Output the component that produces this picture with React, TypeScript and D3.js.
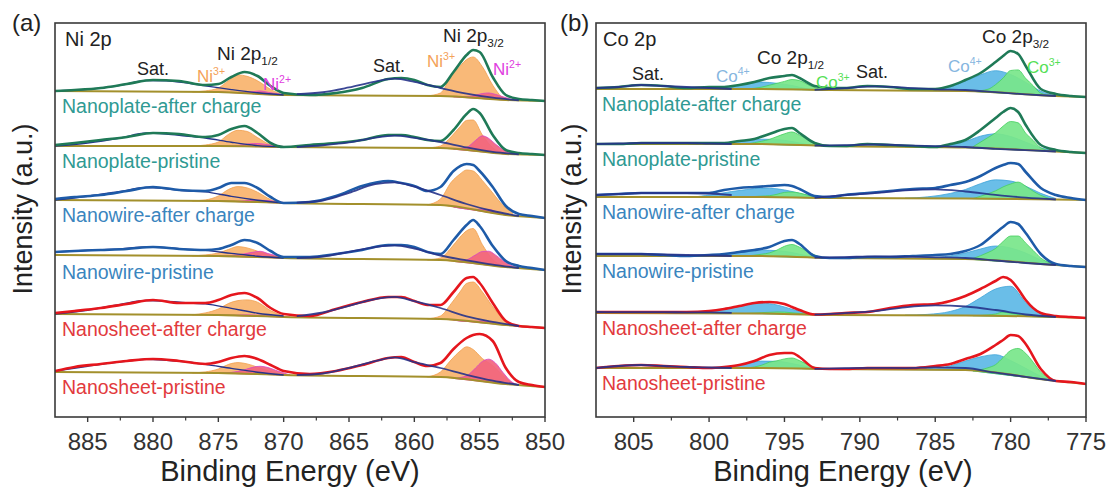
import React from "react";
import * as d3 from "d3";

// ---- series (top to bottom) ----
const seriesNames = [
  "Nanoplate-after charge",
  "Nanoplate-pristine",
  "Nanowire-after charge",
  "Nanowire-pristine",
  "Nanosheet-after charge",
  "Nanosheet-pristine",
];
const seriesKind = ["plate", "plate", "wire", "wire", "sheet", "sheet"];

// ---- Ni 2p panel ----
const niEnergy = [887.5, 886, 884, 882, 880, 878, 876, 875, 874, 873, 872, 871, 870, 868, 866, 864, 862, 861, 860, 859, 858, 857, 856, 855.5, 855, 854, 853, 852, 851, 850];
const niPlateAfter = [0, 1, 3, 7, 11, 10, 6, 7, 14, 19, 15, 5, -2, -4, -2, 3, 12, 13, 11, 6, 4, 19, 36, 41, 39, 14, -4, -8, -9, -10];
const niPlatePristine = [1, 3, 6, 9, 13, 12, 9, 11, 17, 20, 13, 3, -1, 1, 3, 6, 11, 11, 9, 6, 5, 16, 32, 37, 33, 11, -4, -7, -8, -9];
const niWireAfter = [1, 3, 5, 9, 13, 10, 9, 12, 17, 17, 12, 3, -3, -2, 4, 14, 19, 17, 14, 9, 13, 29, 36, 35, 29, 13, -6, -14, -16, -18];
const niWirePristine = [5, 6, 7, 8, 10, 8, 7, 8, 12, 17, 14, 6, 0, 0, 3, 7, 12, 12, 10, 5, 3, 17, 32, 37, 31, 11, -4, -9, -11, -13];
const niSheetAfter = [1, 3, 6, 10, 14, 11, 11, 14, 19, 21, 16, 6, 0, -2, 5, 12, 17, 17, 13, 9, 9, 22, 36, 37, 31, 11, -7, -12, -13, -14];
const niSheetPristine = [1, 5, 8, 11, 13, 11, 8, 10, 14, 16, 13, 7, 1, -2, 1, 7, 14, 15, 10, 6, 9, 23, 34, 37, 38, 31, 4, -10, -13, -15];
const niOffsets = [326, 271, 217, 160, 103, 45];

const niBgEnergy = [887.5, 875, 870, 858, 853, 850];
const niBg = [
  [0, -1, -4, -5, -9, -10],
  [0, 0, -1, -2, -8, -9],
  [0, -1, -3, -5, -15, -18],
  [2, 1, -1, -3, -10, -13],
  [0, -1, -3, -5, -11, -14],
  [0, -1, -3, -5, -12, -15],
];

const ni3MainEnergy = [859, 858, 857.2, 856.5, 856, 855.5, 854.8, 854, 853.2, 852.5];
const ni3Main = [
  [0, 3, 20, 31, 38, 41, 32, 14, 2, 0],
  [0, 2, 12, 23, 30, 31, 17, 5, 1, 0],
  [0, 6, 24, 34, 39, 39, 31, 20, 9, 3],
  [0, 2, 13, 25, 32, 35, 20, 6, 1, 0],
  [0, 3, 16, 29, 38, 40, 31, 17, 6, 1],
  [0, 5, 18, 28, 33, 31, 23, 17, 8, 1],
];
const ni2MainEnergy = [857, 856, 855.3, 854.8, 854.3, 853.8, 853.2, 852.6, 852];
const ni2Main = [
  [0, 1, 3, 5, 6, 5, 3, 1, 0],
  [0, 3, 11, 16, 14, 9, 4, 1, 0],
  [0, 0, 1, 2, 3, 2, 1, 0, 0],
  [0, 3, 9, 13, 14, 11, 6, 2, 0],
  [0, 0, 1, 2, 2, 1, 0, 0, 0],
  [0, 4, 13, 20, 23, 20, 11, 3, 0],
];
const ni3MinorEnergy = [877, 876, 875, 874.2, 873.5, 872.8, 872, 871, 870];
const ni3Minor = [
  [0, 1, 4, 12, 18, 17, 13, 5, 0],
  [0, 1, 4, 12, 16, 15, 9, 2, 0],
  [0, 1, 5, 12, 15, 14, 10, 3, 0],
  [0, 1, 3, 7, 10, 9, 6, 2, 0],
  [0, 2, 6, 12, 15, 16, 14, 6, 1],
  [0, 1, 4, 9, 11, 10, 7, 3, 0],
];
const ni2MinorEnergy = [875, 874, 873, 872.3, 871.8, 871.2, 870.5, 869.5];
const ni2Minor = [
  [0, 0, 1, 2, 3, 2, 1, 0],
  [0, 0, 2, 3, 3, 2, 1, 0],
  [0, 0, 1, 2, 2, 2, 1, 0],
  [0, 1, 3, 5, 6, 4, 2, 0],
  [0, 0, 1, 1, 1, 1, 0, 0],
  [0, 1, 4, 7, 8, 7, 4, 0],
];
const niSatMainEnergy = [869, 867, 865, 863, 861.5, 860, 858, 856, 854, 852];
const niSatMain = [
  [1, 3, 8, 14, 17, 14, 8, 4, 1.5, 0],
  [0, 2, 5, 10, 12, 10, 6, 3, 1, 0],
  [0.5, 3, 11, 20, 22, 18, 10, 5, 2, 0],
  [0, 2, 7, 12, 14, 11, 4.5, 2.5, 1, 0],
  [1, 5, 12, 19, 21.5, 17.5, 11, 5, 2, 0],
  [0, 2, 8, 15, 19, 14.5, 9, 5, 2, 0],
];
const niSatMinorEnergy = [887.5, 885, 882.5, 880.5, 879, 877.5, 876, 874, 872, 870];
const niSatMinor = [
  [0, 2, 6, 11, 11, 9, 6, 3, 1, 0],
  [0, 3, 8, 13, 12, 10, 8, 4, 1, 0],
  [0, 4, 9, 13, 12, 10, 9, 5, 2, 0],
  [3, 5, 6.5, 8.5, 8, 6.5, 5.5, 3, 1, 0],
  [0, 4, 10, 14, 13.5, 12, 11, 7, 3, 1],
  [1, 6, 10.5, 13.3, 12.5, 11, 8.5, 5, 2, 0],
];
const niTicks = [885, 880, 875, 870, 865, 860, 855, 850];

// ---- Co 2p panel ----
const coEnergy = [807.5, 806, 804.5, 803, 801.5, 800, 799, 798, 797, 796, 795, 794.5, 794, 793, 792, 791, 789.5, 788, 786.5, 785, 784, 783, 782, 781, 780.5, 780, 779.5, 779, 778, 777, 776, 775];
const coPlateAfter = [1, 2, 4, 3, 1, 2, 2, 4, 7, 11, 13, 14, 11, 3, 1, 1, 3, 2, 0, 0, 3, 9, 16, 27, 33, 38, 35, 23, 0, -5, -7, -8];
const coPlatePristine = [0, 0, 1, 1, 1, 1, 1, 3, 5, 10, 15, 16, 11, 1, -2, -2, 0, -1, -2, -3, 0, 4, 14, 26, 32, 36, 32, 19, -1, -6, -8, -9];
const coWireAfter = [2, 3, 4, 4, 4, 4, 7, 9, 10, 11, 12, 11, 8, 1, 0, 2, 4, 6, 8, 9, 12, 15, 21, 29, 32, 34, 33, 25, 9, 2, -1, -3];
const coWirePristine = [2, 2, 2, 1, 0, 1, 2, 4, 6, 9, 15, 16, 12, 0, -2, -2, -1, -1, 0, 1, 2, 5, 11, 23, 29, 34, 32, 23, 2, -8, -10, -11];
const coSheetAfter = [1, 1, 1, 1, 1, 2, 4, 7, 10, 11, 9, 6, 3, -1.5, -1, 0, 1, 5, 8, 9, 12, 17, 24, 32, 36, 33, 24, 13, 0, -3, -4, -5];
const coSheetPristine = [0, 2, 3, 2, 1, 0, 1, 3, 7, 13, 15, 15, 11, 0, -1, -1, 0, 0, 0, 2, 4, 9, 14, 23, 28, 33, 32, 24, -1, -13, -14, -16];
const coOffsets = [328, 273, 220, 161, 104, 49];

const coBgEnergy = [807.5, 797, 792, 783, 777, 775];
const coBg = [
  [0, 0, -1, -2, -7, -8],
  [0, 0, -2, -3.5, -7.5, -9],
  [0, 0, -1, -1.5, -2.5, -3],
  [0, 0, -2, -3, -9, -11],
  [0, -0.5, -2, -2.5, -4, -5],
  [0, 0, -1, -2, -13, -16],
];

const co4MainEnergy = [787, 785.5, 784, 783, 782, 781, 780, 779, 778, 777];
const co4Main = [
  [0, 1, 4, 10, 17, 22, 19, 12, 4, 0],
  [0, 0.5, 2.5, 6, 12, 15, 13, 8, 3, 0],
  [0, 1.5, 5, 9, 15, 19, 18, 13, 6, 1],
  [0, 1, 3, 6, 11, 15, 14, 10, 4, 0],
  [0, 1, 4, 9, 18, 27, 30, 14, 3, 0],
  [0, 1, 4, 9, 15, 19, 15, 9, 3, 0],
];
const co3MainEnergy = [782.5, 781.5, 781, 780.5, 780, 779.5, 779, 778.5, 778, 777.2];
const co3Main = [
  [0, 3, 8, 15, 23, 24, 16, 9, 2, 0],
  [1, 11, 16, 23, 28, 27, 17, 10, 3, 0],
  [0, 5, 8, 12, 15, 17, 13, 8, 4, 0],
  [1, 8, 12.5, 20, 26, 26.5, 20, 13, 6, 1],
  [0, 1, 2, 4, 3, 2, 1, 0.5, 0, 0],
  [0, 5, 9, 17, 25, 28, 24, 16, 7, 1],
];
const co4MinorEnergy = [801, 799.5, 798.5, 797.5, 796.5, 795.5, 794.5, 793.5, 792.5];
const co4Minor = [
  [0, 1, 3, 5, 7, 6, 4, 1, 0],
  [0, 0.5, 2, 3.5, 5, 5, 3.5, 1, 0],
  [0, 3, 5.5, 7.5, 9, 8.5, 6, 2.5, 0],
  [0, 1, 2.5, 4.5, 6, 6, 4.5, 1.5, 0],
  [0, 3, 6, 9, 10.5, 9, 5, 1.5, 0],
  [0, 0.5, 2, 4.5, 7, 7, 5, 2, 0],
];
const co3MinorEnergy = [797.5, 796.5, 796, 795.5, 795, 794.5, 794, 793.3, 792.5];
const co3Minor = [
  [0, 2, 4, 6, 8, 10, 9, 4, 0],
  [0, 3, 5, 8, 11, 13, 10, 5, 0],
  [0, 1, 1.5, 3, 5, 5.5, 4.5, 2, 0],
  [0, 2, 3.5, 6.5, 10.5, 12.5, 10, 4.5, 0],
  [0, 1, 1.5, 2, 2, 1.5, 1, 0.5, 0],
  [0, 3, 6, 7.5, 9.5, 10.5, 8, 3, 0],
];
const coSatMainEnergy = [793, 791, 789, 787, 785, 783, 781, 779, 777];
const coSatMain = [
  [0, 2, 4, 3, 1.5, 1, 0.5, 0, 0],
  [0, 1, 2, 1.5, 1, 0.5, 0, 0, 0],
  [0, 3, 5, 8, 9, 7, 4, 1.5, 0],
  [0, 1, 2, 2, 1.5, 1, 0.5, 0, 0],
  [0, 2, 4, 8, 10, 9, 6, 2, 0],
  [0, 1, 1.5, 1.5, 2.5, 2, 1, 0.5, 0],
];
const coSatMinorEnergy = [807.5, 806, 804.5, 803, 801.5, 800, 798.5];
const coSatMinor = [
  [1, 2, 4, 3, 2, 1, 0],
  [0, 0.5, 1, 1, 1, 0.5, 0],
  [2, 3, 4, 4, 4, 3.5, 2],
  [2, 2, 2, 1.5, 1, 0.5, 0],
  [1, 1, 1, 1, 1, 1, 0.5],
  [0, 2, 3, 2, 1, 0.5, 0],
];
const coTicks = [805, 800, 795, 790, 785, 780, 775];

// ---- styles ----
const FONT = "'Liberation Sans', Arial, Helvetica, sans-serif";
const labelColor = { plate: "#2F9A93", wire: "#3A85BE", sheet: "#E23A3D" };
const lineColor = { plate: "#1F7A57", wire: "#1E5BA8", sheet: "#E5161D" };
const SAT = "#26338A";
const BG = "#A3902C";
const NI3 = { fill: "#F8B36D", stroke: "#F09E4C" };
const NI2 = { fill: "#F2647E", stroke: "#D945C4" };
const CO4 = { fill: "#5DB8E6", stroke: "#3EA3D8" };
const CO3 = { fill: "#78E68A", stroke: "#45CF5E" };

const TOP = 23;
const BOTTOM = 417;
const y = d3.scaleLinear().domain([0, 394]).range([BOTTOM, TOP]);

function Panel({ id, left, right, domain, energy, envelopes, offsets, bgEnergy, bg, peaks, sats, ticks, labelX, yLabelX, titleX }) {
  const x = d3.scaleLinear().domain(domain).range([left, right]);
  const line = d3.line().x(d => x(d[0])).y(d => y(d[1])).curve(d3.curveMonotoneX);
  const area = d3.area().x(d => x(d[0])).y0(d => y(d[1])).y1(d => y(d[2])).curve(d3.curveMonotoneX);
  const minor = ticks.slice(1).map((t, i) => (t + ticks[i]) / 2);

  return (
    <g>
      <defs>
        <clipPath id={"clip-" + id}>
          <rect x={left} y={TOP} width={right - left} height={BOTTOM - TOP} />
        </clipPath>
      </defs>
      <g clipPath={`url(#clip-${id})`}>
        {envelopes.map((env, i) => {
          const base = d3.scaleLinear().domain(bgEnergy).range(bg[i]);
          const off = offsets[i];
          const kind = seriesKind[i];
          return (
            <g key={i}>
              {peaks.map((p, k) => (
                <path
                  key={k}
                  d={area(p.energy.map((E, j) => [E, off + base(E), off + base(E) + p.values[i][j]]))}
                  fill={p.style.fill}
                  fillOpacity={0.92}
                  stroke={p.style.stroke}
                  strokeWidth={0.8}
                />
              ))}
              <path d={line(bgEnergy.map((E, j) => [E, off + bg[i][j]]))} fill="none" stroke={BG} strokeWidth={2} />
              {sats.filter(s => !s.over).map((s, k) => (
                <path key={"u" + k} d={line(s.energy.map((E, j) => [E, off + base(E) + s.values[i][j]]))} fill="none" stroke={SAT} strokeWidth={1.4} />
              ))}
              <path d={line(energy.map((E, j) => [E, off + env[j]]))} fill="none" stroke={lineColor[kind]} strokeWidth={2.6} strokeLinejoin="round" />
              {sats.filter(s => s.over).map((s, k) => (
                <path key={"o" + k} d={line(s.energy.map((E, j) => [E, off + base(E) + s.values[i][j]]))} fill="none" stroke={SAT} strokeWidth={1.8} strokeOpacity={0.9} />
              ))}
            </g>
          );
        })}
      </g>
      {envelopes.map((env, i) => (
        <text key={"l" + i} x={labelX} y={y(offsets[i]) + 22} fontSize={19.5} fill={labelColor[seriesKind[i]]} fontFamily={FONT}>
          {seriesNames[i]}
        </text>
      ))}
      <rect x={left} y={TOP} width={right - left} height={BOTTOM - TOP} fill="none" stroke="#3a3a3a" strokeWidth={1.6} />
      {ticks.map(t => (
        <g key={t}>
          <line x1={x(t)} x2={x(t)} y1={BOTTOM} y2={BOTTOM + 5} stroke="#3a3a3a" strokeWidth={1.4} />
          <text x={x(t)} y={450} fontSize={24} textAnchor="middle" fill="#333" fontFamily={FONT}>{t}</text>
        </g>
      ))}
      {minor.map(t => (
        <line key={t} x1={x(t)} x2={x(t)} y1={BOTTOM} y2={BOTTOM + 3.5} stroke="#3a3a3a" strokeWidth={1.2} />
      ))}
      <text x={titleX} y={481} fontSize={29} textAnchor="middle" fill="#222" fontFamily={FONT}>Binding Energy (eV)</text>
      <text transform={`translate(${yLabelX},209) rotate(-90)`} fontSize={27} textAnchor="middle" fill="#222" fontFamily={FONT}>Intensity (a.u.)</text>
    </g>
  );
}

function Tag({ x, yy, size = 19, color = "#222", main, sub, sup }) {
  return (
    <text x={x} y={yy} fontSize={size} fill={color} fontFamily={FONT}>
      {main}
      {sub && <tspan fontSize={size * 0.62} dy={size * 0.28}>{sub}</tspan>}
      {sup && <tspan fontSize={size * 0.62} dy={-size * 0.42}>{sup}</tspan>}
    </text>
  );
}

export default function App() {
  return (
    <svg width={1110} height={488} style={{ position: "absolute", left: 0, top: 0, background: "#fff" }}>
      <Panel
        id="ni"
        left={55}
        right={545}
        domain={[887.5, 850]}
        energy={niEnergy}
        envelopes={[niPlateAfter, niPlatePristine, niWireAfter, niWirePristine, niSheetAfter, niSheetPristine]}
        offsets={niOffsets}
        bgEnergy={niBgEnergy}
        bg={niBg}
        peaks={[
          { energy: ni3MainEnergy, values: ni3Main, style: NI3 },
          { energy: ni2MainEnergy, values: ni2Main, style: NI2 },
          { energy: ni3MinorEnergy, values: ni3Minor, style: NI3 },
          { energy: ni2MinorEnergy, values: ni2Minor, style: NI2 },
        ]}
        sats={[
          { energy: niSatMainEnergy, values: niSatMain, over: true },
          { energy: niSatMinorEnergy, values: niSatMinor, over: false },
        ]}
        ticks={niTicks}
        labelX={62}
        yLabelX={32}
        titleX={290}
      />
      <Panel
        id="co"
        left={596}
        right={1086}
        domain={[807.5, 775]}
        energy={coEnergy}
        envelopes={[coPlateAfter, coPlatePristine, coWireAfter, coWirePristine, coSheetAfter, coSheetPristine]}
        offsets={coOffsets}
        bgEnergy={coBgEnergy}
        bg={coBg}
        peaks={[
          { energy: co4MainEnergy, values: co4Main, style: CO4 },
          { energy: co3MainEnergy, values: co3Main, style: CO3 },
          { energy: co4MinorEnergy, values: co4Minor, style: CO4 },
          { energy: co3MinorEnergy, values: co3Minor, style: CO3 },
        ]}
        sats={[
          { energy: coSatMainEnergy, values: coSatMain, over: true },
          { energy: coSatMinorEnergy, values: coSatMinor, over: true },
        ]}
        ticks={coTicks}
        labelX={602}
        yLabelX={581}
        titleX={843}
      />

      {/* panel (a) annotations */}
      <text x={12} y={31} fontSize={24} fill="#222" fontFamily={FONT}>(a)</text>
      <Tag x={65} yy={46} size={20} main="Ni 2p" />
      <Tag x={137} yy={75} size={18} main="Sat." />
      <Tag x={217} yy={60} size={19} main="Ni 2p" sub="1/2" />
      <Tag x={197} yy={82} size={17} color="#F4A259" main="Ni" sup="3+" />
      <Tag x={263} yy={90} size={17} color="#E040E0" main="Ni" sup="2+" />
      <Tag x={373} yy={72} size={18} main="Sat." />
      <Tag x={443} yy={42} size={19} main="Ni 2p" sub="3/2" />
      <Tag x={427} yy={67} size={17} color="#F4A259" main="Ni" sup="3+" />
      <Tag x={493} yy={75} size={17} color="#E040E0" main="Ni" sup="2+" />

      {/* panel (b) annotations */}
      <text x={560} y={31} fontSize={24} fill="#222" fontFamily={FONT}>(b)</text>
      <Tag x={603} yy={46} size={20} main="Co 2p" />
      <Tag x={632} yy={80} size={18} main="Sat." />
      <Tag x={716} yy={82} size={17} color="#86B6E0" main="Co" sup="4+" />
      <Tag x={757} yy={64} size={19} main="Co 2p" sub="1/2" />
      <Tag x={816} yy={88} size={17} color="#55E055" main="Co" sup="3+" />
      <Tag x={856} yy={78} size={18} main="Sat." />
      <Tag x={982} yy={43} size={19} main="Co 2p" sub="3/2" />
      <Tag x={948} yy={72} size={17} color="#86B6E0" main="Co" sup="4+" />
      <Tag x={1027} yy={73} size={17} color="#55E055" main="Co" sup="3+" />
    </svg>
  );
}
